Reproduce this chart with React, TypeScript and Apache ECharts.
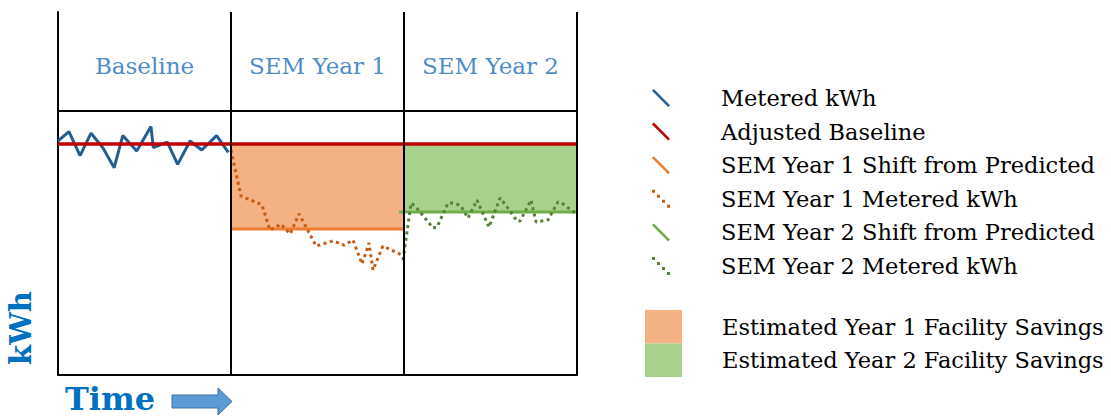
import React, { useEffect, useRef } from "react";
import * as echarts from "echarts";

// ---- data (x in months, y in kWh, arbitrary units) ----
const periods = ["Baseline", "SEM Year 1", "SEM Year 2"];
const periodBounds = [0, 12, 24, 36];
const baselineLevel = 77;
const year1ShiftLevel = 48.7;
const year2ShiftLevel = 54.3;
const year2ShiftStart = 23.65;
const headerLevel = 88;
const yMax = 121;

const meteredKwh = [
  [0, 78], [0.76, 81.1], [1.53, 73.1], [2.29, 80.6], [3.12, 75.7], [3.9, 69.1],
  [4.49, 79.8], [5.46, 74.7], [6.45, 82.8], [6.61, 75.8], [7.58, 77.6], [8.3, 70.2],
  [9.16, 78], [9.97, 75], [11.0, 79.8], [11.81, 74.2],
];
const year1Metered = [
  [12.0, 75], [12.69, 59.7], [14.15, 56.7], [14.7, 48.3], [15.47, 50.3], [16.1, 47],
  [16.72, 53.7], [17.9, 43], [19.08, 44.7], [19.84, 43.3], [20.46, 45], [21.09, 37],
  [21.57, 44], [21.85, 35], [22.54, 43], [23.86, 40],
];
const year2Metered = [
  [23.93, 38.3], [24.07, 43], [24.49, 57.3], [24.83, 56], [26.01, 49], [26.29, 49.3],
  [27.05, 57.3], [27.54, 57.3], [27.95, 56.3], [28.44, 52.3], [29.06, 58.3], [29.9, 49.3],
  [30.66, 59], [31.0, 57], [31.84, 51.3], [32.05, 51.3], [32.81, 58.3], [33.16, 51],
  [33.99, 51.7], [34.68, 57.7], [35.03, 57], [35.86, 54],
];

const names = {
  metered: "Metered kWh",
  baseline: "Adjusted Baseline",
  y1Shift: "SEM Year 1 Shift from Predicted",
  y1Metered: "SEM Year 1 Metered kWh",
  y2Shift: "SEM Year 2 Shift from Predicted",
  y2Metered: "SEM Year 2 Metered kWh",
  y1Save: "Estimated Year 1 Facility Savings",
  y2Save: "Estimated Year 2 Facility Savings",
};

const C = {
  blue: "#255E91",
  red: "#C00000",
  orange: "#ED7D31",
  orangeDot: "#C55A11",
  green: "#70AD47",
  greenDot: "#548235",
  orangeFill: "#F4B183",
  greenFill: "#A9D18E",
  title: "#1A6DB8",
  axisTitle: "#0070C0",
};

const FONT = '"DejaVu Serif", Georgia, serif';
const diagIcon = "path://M0,2 L2,0 L20,18 L18,20 Z";
const dotIcon =
  "path://M1,1 h3 v3 h-3 Z M6,6 h3 v3 h-3 Z M11,11 h3 v3 h-3 Z M16,16 h3 v3 h-3 Z";

export default function App() {
  const ref = useRef<HTMLDivElement>(null);
  useEffect(() => {
    document.body.style.margin = "0";
    const chart = echarts.init(ref.current!, null, { renderer: "svg" });
    const dotted = [3, 3.5];
    const legendText = {
      fontFamily: FONT,
      fontSize: 22.5,
      lineHeight: 22,
      color: "#000",
    };
    const option: any = {
      animation: false,
      grid: { left: 58, right: 534, top: 12, bottom: 42 },
      xAxis: {
        type: "value",
        min: periodBounds[0],
        max: periodBounds[3],
        axisLine: { show: true, lineStyle: { color: "#000", width: 2 } },
        axisTick: { show: false },
        axisLabel: { show: false },
        splitLine: { show: false },
      },
      yAxis: {
        type: "value",
        min: 0,
        max: yMax,
        axisLine: { show: true, lineStyle: { color: "#000", width: 2 } },
        axisTick: { show: false },
        axisLabel: { show: false },
        splitLine: { show: false },
      },
      legend: [
        {
          orient: "vertical",
          left: 652,
          top: 86.5,
          padding: 0,
          itemWidth: 20,
          itemHeight: 18,
          itemGap: 10.6,
          selectedMode: false,
          itemStyle: { borderWidth: 0 },
          textStyle: { ...legendText, padding: [0, 0, 0, 45] },
          data: [
            { name: names.metered, icon: diagIcon },
            { name: names.baseline, icon: diagIcon },
            { name: names.y1Shift, icon: diagIcon },
            { name: names.y1Metered, icon: dotIcon },
            { name: names.y2Shift, icon: diagIcon },
            { name: names.y2Metered, icon: dotIcon },
          ],
        },
        {
          orient: "vertical",
          left: 645,
          top: 310,
          padding: 0,
          itemWidth: 37,
          itemHeight: 33.5,
          itemGap: 0,
          selectedMode: false,
          itemStyle: { borderWidth: 0 },
          textStyle: { ...legendText, padding: [0, 0, 0, 35] },
          data: [
            { name: names.y1Save, icon: "rect" },
            { name: names.y2Save, icon: "rect" },
          ],
        },
      ],
      series: [
        {
          name: names.y1Save,
          type: "line",
          data: [],
          itemStyle: { color: C.orangeFill },
          markArea: {
            silent: true,
            itemStyle: { color: C.orangeFill },
            data: [[{ coord: [periodBounds[1], baselineLevel] }, { coord: [periodBounds[2], year1ShiftLevel] }]],
          },
        },
        {
          name: names.y2Save,
          type: "line",
          data: [],
          itemStyle: { color: C.greenFill },
          markArea: {
            silent: true,
            itemStyle: { color: C.greenFill },
            data: [[{ coord: [periodBounds[2], baselineLevel] }, { coord: [periodBounds[3], year2ShiftLevel] }]],
          },
        },
        {
          name: names.y1Shift,
          type: "line",
          symbol: "none",
          itemStyle: { color: C.orange },
          lineStyle: { color: C.orange, width: 3 },
          data: [[periodBounds[1], year1ShiftLevel], [periodBounds[2], year1ShiftLevel]],
        },
        {
          name: names.y2Shift,
          type: "line",
          symbol: "none",
          itemStyle: { color: C.green },
          lineStyle: { color: C.green, width: 3 },
          data: [[year2ShiftStart, year2ShiftLevel], [periodBounds[3], year2ShiftLevel]],
        },
        {
          name: names.y1Metered,
          type: "line",
          symbol: "none",
          itemStyle: { color: C.orangeDot },
          lineStyle: { color: C.orangeDot, width: 3, type: dotted },
          data: year1Metered,
        },
        {
          name: names.y2Metered,
          type: "line",
          symbol: "none",
          itemStyle: { color: C.greenDot },
          lineStyle: { color: C.greenDot, width: 3, type: dotted },
          data: year2Metered,
        },
        {
          name: names.metered,
          type: "line",
          symbol: "none",
          itemStyle: { color: C.blue },
          lineStyle: { color: C.blue, width: 3 },
          data: meteredKwh,
        },
        {
          name: names.baseline,
          type: "line",
          symbol: "none",
          itemStyle: { color: C.red },
          lineStyle: { color: C.red, width: 3.5 },
          data: [[periodBounds[0], baselineLevel], [periodBounds[3], baselineLevel]],
          markLine: {
            silent: true,
            symbol: "none",
            label: { show: false },
            lineStyle: { color: "#000", width: 2, type: "solid" },
            data: [
              { xAxis: periodBounds[1] },
              { xAxis: periodBounds[2] },
              { xAxis: periodBounds[3] },
              { yAxis: headerLevel },
            ],
          },
        },
        {
          name: "periods",
          type: "scatter",
          symbolSize: 0,
          silent: true,
          label: {
            show: true,
            position: "inside",
            formatter: "{b}",
            fontFamily: FONT,
            fontSize: 23,
            color: C.title,
          },
          data: periods.map((p, i) => ({
            name: p,
            value: [(periodBounds[i] + periodBounds[i + 1]) / 2, 103],
          })),
        },
      ],
      graphic: [
        {
          type: "text",
          x: 21,
          y: 328,
          rotation: Math.PI / 2,
          style: {
            text: "kWh",
            font: `bold 29px ${FONT}`,
            fill: C.axisTitle,
            textAlign: "center",
            textVerticalAlign: "middle",
          },
        },
        {
          type: "text",
          x: 65,
          y: 399,
          style: {
            text: "Time",
            font: `bold 32px ${FONT}`,
            lineHeight: 30,
            fill: C.axisTitle,
            textAlign: "left",
            textVerticalAlign: "middle",
          },
        },
        {
          type: "polygon",
          shape: {
            points: [
              [172, 395], [218, 395], [218, 388], [232, 401.5],
              [218, 415], [218, 408], [172, 408],
            ],
          },
          style: { fill: "#5B9BD5", stroke: "#41719C", lineWidth: 1 },
        },
      ],
    };
    chart.setOption(option);
    return () => chart.dispose();
  }, []);
  return (
    <div
      ref={ref}
      style={{ position: "absolute", left: 0, top: 0, width: 1111, height: 417 }}
    />
  );
}
